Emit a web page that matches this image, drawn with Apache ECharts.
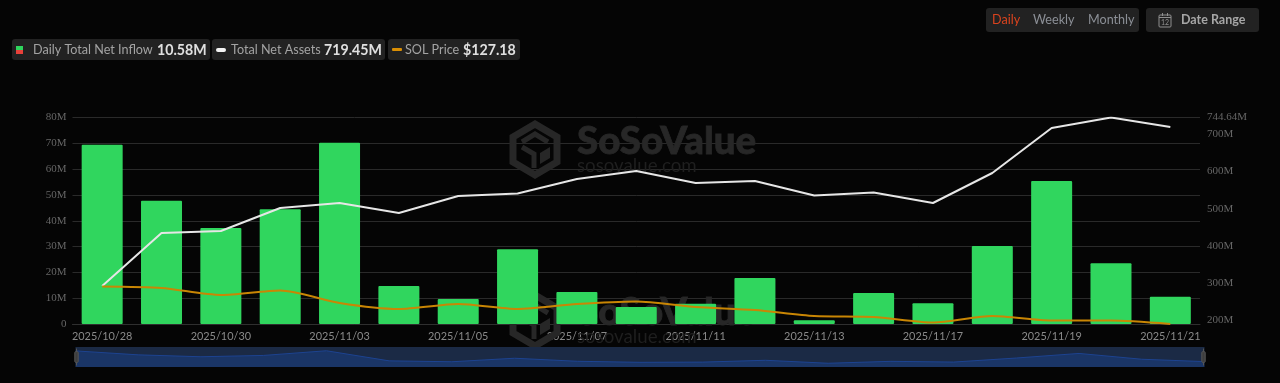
<!DOCTYPE html>
<html><head><meta charset="utf-8">
<style>html,body{margin:0;padding:0;background:#050505}#c{width:1280px;height:383px}</style>
<script src="https://cdn.jsdelivr.net/npm/echarts@6/dist/echarts.min.js"></script>
</head><body><div id="c"></div>
<script>
const categories=['2025/10/28','2025/10/29','2025/10/30','2025/10/31','2025/11/03','2025/11/04','2025/11/05','2025/11/06','2025/11/07','2025/11/10','2025/11/11','2025/11/12','2025/11/13','2025/11/14','2025/11/17','2025/11/18','2025/11/19','2025/11/20','2025/11/21'];
const netInflow=[69.4,47.7,37.2,44.5,70.2,14.7,9.7,29,12.4,6.6,7.8,17.8,1.5,12,8,30.2,55.4,23.5,10.58];
const netAssets=[292.9,435,440.3,502,515.4,488.6,534.2,540.9,579.7,601.2,569,574.4,535.5,543.6,515.4,595.8,716.5,744.64,719.45];
const solPrice=[200.2,197.3,183.6,192.4,168,156.3,166,156.3,166,170.9,160.2,154.3,142.6,140.7,129.9,142.6,133.8,133.8,127.18];
const rightTicks=[200,300,400,500,600,700,744.64];

const F='Lato, sans-serif';
const chip=(x,y,w,h)=>({type:'rect',shape:{x,y,width:w,height:h,r:3},style:{fill:'#222222'},silent:true});
const txt=(x,y,t,fill,size,weight,extra)=>({type:'text',x,y,style:Object.assign({text:t,fill,font:(weight||'normal')+' '+size+'px '+F,textVerticalAlign:'middle'},extra||{}),silent:true});
const bar=(x,y,w,h,fill,r)=>({type:'rect',shape:{x,y,width:w,height:h,r:r||0},style:{fill},silent:true});

function watermark(dy){
  const hex=[[535,124],[557,137],[557,162],[535,175],[513,162],[513,137]].map(p=>[p[0],p[1]+dy]);
  const s='#272727';
  const z=1;
  return [
    {type:'polygon',z,shape:{points:hex},style:{fill:'none',stroke:s,lineWidth:7},silent:true},
    {type:'polyline',z,shape:{points:[[522,142+dy],[535,134+dy],[548,142+dy]]},style:{fill:'none',stroke:s,lineWidth:5},silent:true},
    {type:'polyline',z,shape:{points:[[522,147+dy],[534,154+dy],[534,168+dy]]},style:{fill:'none',stroke:s,lineWidth:5},silent:true},
    {type:'polygon',z,shape:{points:[[540,153+dy],[550,147+dy],[550,158+dy],[540,164+dy]]},style:{fill:s},silent:true},
    {type:'text',z,x:577,y:142+dy,style:{text:'SoSoValue',fill:s,font:'900 38.5px Lato, sans-serif',textVerticalAlign:'middle',stroke:s,lineWidth:.8},silent:true},
    {type:'text',z,x:577,y:166+dy,style:{text:'sosovalue.com',fill:'#1f1f1f',font:'normal 18.7px Lato, sans-serif',textVerticalAlign:'middle'},silent:true}
  ];
}

const graphics=[
  chip(12,39,198,21),bar(16,46,7,4,'#2fd55d'),bar(16,50,7,4,'#e8413a'),
  txt(33,50,'Daily Total Net Inflow','#a3a3a3',12.6),txt(157,50,'10.58M','#e0e0e0',14.2,'bold'),
  chip(212,39,173,21),bar(216,48,10,4,'#f2f2f2',2),
  txt(231,50,'Total Net Assets','#a3a3a3',12.6),txt(324,50,'719.45M','#e0e0e0',14.2,'bold'),
  chip(388,39,132,21),bar(392,48,10,3,'#d98e04',1),
  txt(405,50,'SOL Price','#a3a3a3',12.6),txt(463,50,'$127.18','#e0e0e0',14.2,'bold'),
  chip(986,8,153,24),
  txt(992,20,'Daily','#d9431e',12.6),txt(1033,20,'Weekly','#8b8f96',12.6),txt(1088,20,'Monthly','#8b8f96',12.6),
  chip(1146,8,113,24),
  {type:'rect',shape:{x:1159,y:15,width:12,height:12,r:1},style:{fill:'none',stroke:'#8f8f8f',lineWidth:1},silent:true},
  bar(1159,17,12,1,'#8f8f8f'),bar(1162,13,1,3,'#8f8f8f'),bar(1167,13,1,3,'#8f8f8f'),
  txt(1161,22.5,'12','#8f8f8f',7),
  txt(1181,20,'Date Range','#a6a6a6',12.5,'bold',{}),
  ...watermark(0),...watermark(171)
];

const chart=echarts.init(document.getElementById('c'),null,{renderer:'canvas'});
chart.setOption({
  animation:false,
  backgroundColor:'#050505',
  graphic:graphics,
  grid:{left:72.5,right:80,top:117.5,height:206.5,containLabel:false},
  xAxis:{type:'category',data:categories,
    axisLine:{lineStyle:{color:'#2f2f2f'}},axisTick:{show:false},
    axisLabel:{interval:1,color:'#8a8a8a',fontFamily:F,fontSize:10.9,margin:7,hideOverlap:false}},
  yAxis:[
    {type:'value',min:0,max:80,interval:10,position:'left',
      axisLine:{show:false},axisTick:{show:false},
      axisLabel:{color:'#666666',fontFamily:'"Liberation Serif", serif',fontSize:11,margin:6,formatter:v=>v===0?'0':v+'M'},
      splitLine:{lineStyle:{color:'#2a2a2a'}}},
    {type:'value',min:190.9,max:744.64,position:'right',
      axisLine:{show:false},axisTick:{show:false},splitLine:{show:false},
      axisLabel:{customValues:rightTicks,color:'#666666',fontFamily:'"Liberation Serif", serif',fontSize:11,margin:7,formatter:v=>v+'M'}},
    {type:'value',min:127,max:530,show:false,splitLine:{show:false}}
  ],
  dataZoom:[{type:'slider',xAxisIndex:0,start:0,end:100,left:73,right:78,top:347,height:20,
    showDetail:false,brushSelect:false,borderColor:'transparent',borderRadius:0,
    backgroundColor:'#1b2a45',fillerColor:'rgba(27,42,69,0.0)',
    dataBackground:{lineStyle:{color:'#1d4390',width:1,opacity:1},areaStyle:{color:'#1a3566',opacity:1}},
    selectedDataBackground:{lineStyle:{color:'#1d4390',width:1,opacity:1},areaStyle:{color:'#1a3566',opacity:1}},
    handleSize:'85%',handleStyle:{color:'#3d3d3d',borderColor:'#555555'},
    moveHandleSize:0,showDataShadow:true}],
  series:[
    {name:'Daily Total Net Inflow',type:'bar',data:netInflow,barWidth:41,yAxisIndex:0,itemStyle:{color:'#30d65e',borderRadius:1}},
    {name:'Total Net Assets',type:'line',data:netAssets,yAxisIndex:1,showSymbol:false,symbol:'none',lineStyle:{color:'#e6e6e6',width:2}},
    {name:'SOL Price',type:'line',data:solPrice,yAxisIndex:2,showSymbol:false,symbol:'none',smooth:.25,lineStyle:{color:'#c98604',width:2}}
  ]
});
</script></body></html>
